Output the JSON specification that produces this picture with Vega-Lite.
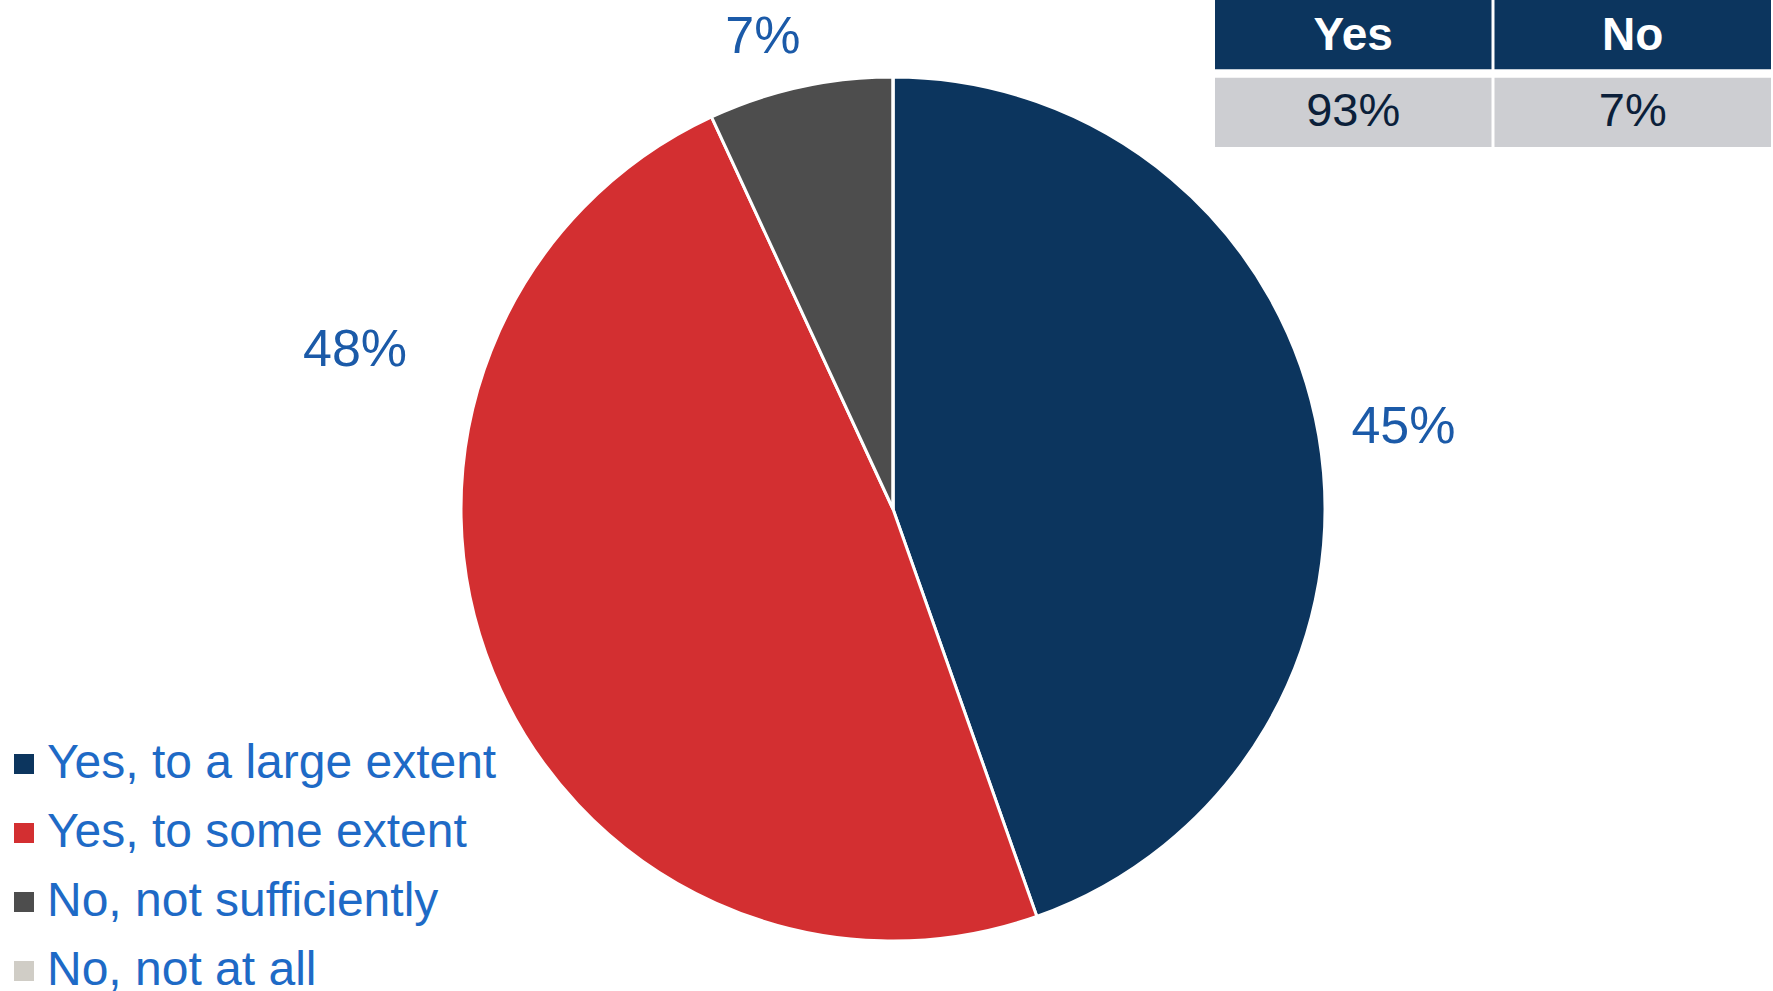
{
  "$schema": "https://vega.github.io/schema/vega-lite/v6.json",
  "width": 1760,
  "height": 964,
  "autosize": {"type": "none"},
  "padding": {"left": 13, "top": 27, "right": 0, "bottom": 0},
  "background": "white",
  "config": {"view": {"stroke": null}, "font": "Liberation Sans"},
  "datasets": {
    "pie": [
      {"response": "Yes, to a large extent", "share": 44.6, "rank": 1, "label": "45%"},
      {"response": "Yes, to some extent", "share": 48.5, "rank": 2, "label": "48%"},
      {"response": "No, not sufficiently", "share": 6.9, "rank": 3, "label": "7%"},
      {"response": "No, not at all", "share": 0, "rank": 4, "label": "0%"}
    ],
    "table": [
      {"column": "Yes", "row": "header", "text": "Yes"},
      {"column": "No", "row": "header", "text": "No"},
      {"column": "Yes", "row": "value", "text": "93%"},
      {"column": "No", "row": "value", "text": "7%"}
    ]
  },
  "layer": [
    {
      "data": {"name": "pie"},
      "mark": {"type": "arc", "outerRadius": 432, "stroke": "white", "strokeWidth": 3},
      "encoding": {
        "theta": {"field": "share", "type": "quantitative", "stack": true},
        "order": {"field": "rank", "type": "quantitative"},
        "color": {
          "field": "response",
          "type": "nominal",
          "scale": {
            "domain": ["Yes, to a large extent", "Yes, to some extent", "No, not sufficiently", "No, not at all"],
            "range": ["#0C355E", "#D32F31", "#4D4D4D", "#D0CDC6"]
          },
          "legend": {
            "title": null,
            "orient": "none",
            "legendX": -13,
            "legendY": 713,
            "symbolType": "square",
            "symbolSize": 400,
            "symbolStrokeWidth": 0,
            "symbolOpacity": 1,
            "labelFontSize": 48,
            "labelColor": "#1E6AC6",
            "labelFont": "Liberation Sans",
            "labelOffset": -1,
            "rowPadding": 21,
            "labelLimit": 0
          }
        }
      }
    },
    {
      "data": {"name": "pie"},
      "mark": {"type": "text", "radius": 517, "thetaOffset": 0.01, "fontSize": 52, "color": "#1B5AA8", "align": "center", "baseline": "middle", "font": "Liberation Sans"},
      "encoding": {
        "theta": {"field": "share", "type": "quantitative", "stack": true},
        "order": {"field": "rank", "type": "quantitative"},
        "text": {"condition": {"test": "datum.rank == 1", "field": "label"}, "value": ""}
      }
    },
    {
      "data": {"name": "pie"},
      "mark": {"type": "text", "radius": 561, "thetaOffset": 0.674, "fontSize": 52, "color": "#1B5AA8", "align": "center", "baseline": "middle", "font": "Liberation Sans"},
      "encoding": {
        "theta": {"field": "share", "type": "quantitative", "stack": true},
        "order": {"field": "rank", "type": "quantitative"},
        "text": {"condition": {"test": "datum.rank == 2", "field": "label"}, "value": ""}
      }
    },
    {
      "data": {"name": "pie"},
      "mark": {"type": "text", "radius": 490, "thetaOffset": -0.052, "fontSize": 52, "color": "#1B5AA8", "align": "center", "baseline": "middle", "font": "Liberation Sans"},
      "encoding": {
        "theta": {"field": "share", "type": "quantitative", "stack": true},
        "order": {"field": "rank", "type": "quantitative"},
        "text": {"condition": {"test": "datum.rank == 3", "field": "label"}, "value": ""}
      }
    },
    {
      "data": {"name": "table"},
      "mark": {"type": "rect"},
      "encoding": {
        "x": {"field": "column", "type": "nominal", "axis": null, "scale": {"domain": ["Yes", "No"], "range": [1202, 1758], "paddingInner": 0.0107, "paddingOuter": 0}},
        "y": {"field": "row", "type": "nominal", "axis": null, "scale": {"domain": ["header", "value"], "range": [-27, 120], "paddingInner": 0.11, "paddingOuter": 0}},
        "fill": {"condition": {"test": "datum.row == 'header'", "value": "#0C355E"}, "value": "#CDCED2"}
      }
    },
    {
      "data": {"name": "table"},
      "transform": [{"filter": "datum.row == 'header'"}],
      "mark": {"type": "text", "fontSize": 46, "fontWeight": "bold", "color": "white", "align": "center", "baseline": "middle", "dy": 1, "font": "Liberation Sans"},
      "encoding": {
        "x": {"field": "column", "type": "nominal", "axis": null},
        "y": {"field": "row", "type": "nominal", "axis": null},
        "text": {"field": "text"}
      }
    },
    {
      "data": {"name": "table"},
      "transform": [{"filter": "datum.row == 'value'"}],
      "mark": {"type": "text", "fontSize": 47, "color": "#0B1F3A", "align": "center", "baseline": "middle", "font": "Liberation Sans"},
      "encoding": {
        "x": {"field": "column", "type": "nominal", "axis": null},
        "y": {"field": "row", "type": "nominal", "axis": null},
        "text": {"field": "text"}
      }
    }
  ]
}
